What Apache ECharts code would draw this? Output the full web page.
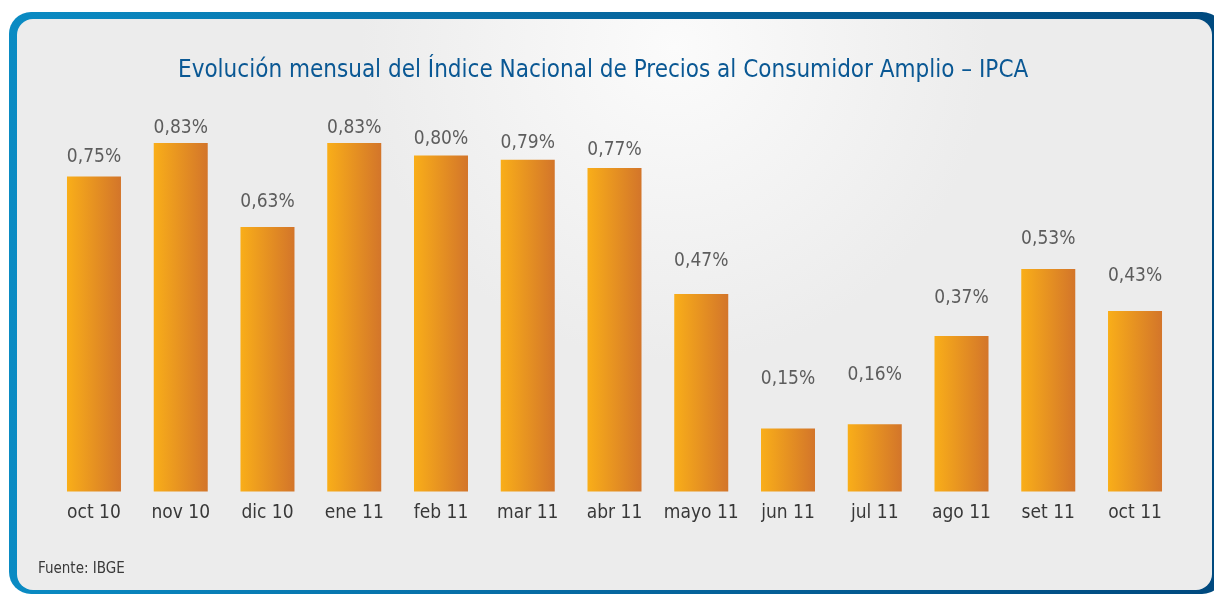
<!DOCTYPE html>
<html><head><meta charset="utf-8">
<script src="https://cdn.jsdelivr.net/npm/echarts@6/dist/echarts.min.js"></script>
<style>html,body{margin:0;padding:0;background:#fff}#c{width:1214px;height:594px}</style>
</head><body><div id="c"></div>
<script>
const categories = ['oct 10','nov 10','dic 10','ene 11','feb 11','mar 11','abr 11','mayo 11','jun 11','jul 11','ago 11','set 11','oct 11'];
const values = [0.75,0.83,0.63,0.83,0.80,0.79,0.77,0.47,0.15,0.16,0.37,0.53,0.43];
const titleText = 'Evolución mensual del Índice Nacional de Precios al Consumidor Amplio – IPCA';
const sourceText = 'Fuente: IBGE';

const chart = echarts.init(document.getElementById('c'), null, {renderer:'canvas'});
const fmt = v => v.toFixed(2).replace('.', ',') + '%';
const labelFont = "'DejaVu Sans Condensed', sans-serif";

chart.setOption({
  animation: false,
  backgroundColor: '#ffffff',
  graphic: [
    { type:'rect', z:-10, silent:true, shape:{x:9,y:12,width:1215,height:582,r:22},
      style:{ fill: new echarts.graphic.LinearGradient(0,0,1,0,[{offset:0,color:'#0A8BC3'},{offset:0.5,color:'#06679F'},{offset:1,color:'#00497E'}]) } },
    { type:'rect', z:-9, silent:true, shape:{x:17,y:19,width:1195,height:571,r:16},
      style:{ fill: new echarts.graphic.RadialGradient(0.55,0.05,0.55,[{offset:0,color:'#FBFBFB'},{offset:1,color:'#ECECEC'}]) } },
    { type:'text', z:5, silent:true, left:38, top:562,
      style:{ text: sourceText, fill:'#3a3a3a', font: "15px " + labelFont } }
  ],
  title: {
    text: titleText, left: 173, top: 54,
    textStyle: { color:'#0A5894', fontSize:24, fontWeight:'normal', fontFamily: labelFont }
  },
  grid: { left: 50.6, right: 35.6, top: 71.5, bottom: 102.5, containLabel:false },
  xAxis: {
    type:'category', data: categories,
    axisLine:{show:false}, axisTick:{show:false},
    axisLabel:{ interval:0, color:'#383838', fontSize:19, fontFamily: labelFont, margin: 12 }
  },
  yAxis: [
    { type:'value', min:0, max:1, show:false, splitLine:{show:false} },
    { type:'value', min:-0.155, max:0.983, show:false, splitLine:{show:false} }
  ],
  series: [
    { type:'bar', data: values, barWidth:54, yAxisIndex:0,
      itemStyle:{ color: new echarts.graphic.LinearGradient(0,0,1,0,[{offset:0,color:'#F9AE19'},{offset:1,color:'#D3752A'}]) } },
    { type:'scatter', data: values, yAxisIndex:1, symbolSize:1, itemStyle:{color:'rgba(0,0,0,0)'},
      label:{ show:true, position:'inside', formatter: p => fmt(p.value), color:'#383838', fontSize:19, fontFamily: labelFont } }
  ]
});
</script></body></html>
